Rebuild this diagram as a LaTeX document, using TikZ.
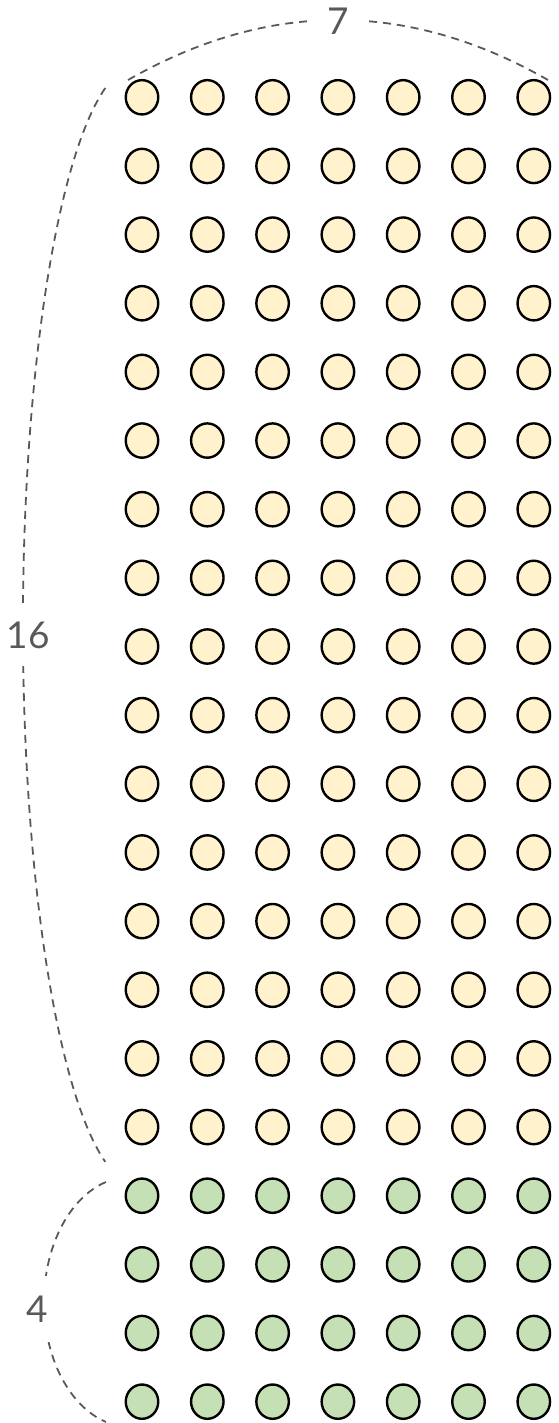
\documentclass[tikz,border=0pt]{standalone}
\usepackage{fontspec}
\setmainfont{Lato}
\usetikzlibrary{shapes.geometric}
\definecolor{dotyellow}{HTML}{FFF2CC}
\definecolor{dotgreen}{HTML}{C5E0B4}
\definecolor{bracegray}{HTML}{595959}
\begin{document}
\begin{tikzpicture}[
        x=1pt, y=1pt,
        dot/.style={ellipse, draw=black, line width=2.4pt, minimum width=32.5pt, minimum height=34.3pt, inner sep=0pt},
        yellowdot/.style={dot, fill=dotyellow},
        greendot/.style={dot, fill=dotgreen},
        brace/.style={draw=bracegray, line width=1.8pt, dash pattern=on 8pt off 6pt},
        count/.style={fill=white, text=bracegray, font=\fontsize{37}{40}\selectfont}
    ]
    \useasboundingbox (0,0) rectangle (558,-1423);
    % grid of dots
    \foreach \r in {1,...,16}
        \foreach \c in {1,...,7}
            \node[yellowdot] (d-\r-\c) at ({142+65.3*(\c-1)}, {-97.3-68.65*(\r-1)}) {};
    \foreach \r in {17,...,20}
        \foreach \c in {1,...,7}
            \node[greendot] (d-\r-\c) at ({142+65.3*(\c-1)}, {-97.3-68.65*(\r-1)}) {};
    % braces
    \coordinate (seventop-l) at (128,-80);
    \coordinate (seventop-r) at (548,-80);
    \coordinate (sixteen-t) at (105.3,-88);
    \coordinate (four-t) at (105.9,-1182);
    \draw[brace] (seventop-l) .. controls (268,0) and (408,0) .. (seventop-r);
    \draw[brace] (sixteen-t) arc[start angle=106.5, end angle=253.5, x radius=115pt, y radius=560pt];
    \draw[brace] (four-t) arc[start angle=106.3, end angle=253.7, x radius=86pt, y radius=125pt];
    % counts
    \node[count, inner xsep=20pt, inner ysep=2pt] (seven) at (338,-21) {7};
    \node[count, inner xsep=2pt, inner ysep=18pt] (sixteen) at (28,-635) {16};
    \node[count, inner xsep=2pt, inner ysep=20pt] (four) at (37,-1309) {4};
\end{tikzpicture}
\end{document}
